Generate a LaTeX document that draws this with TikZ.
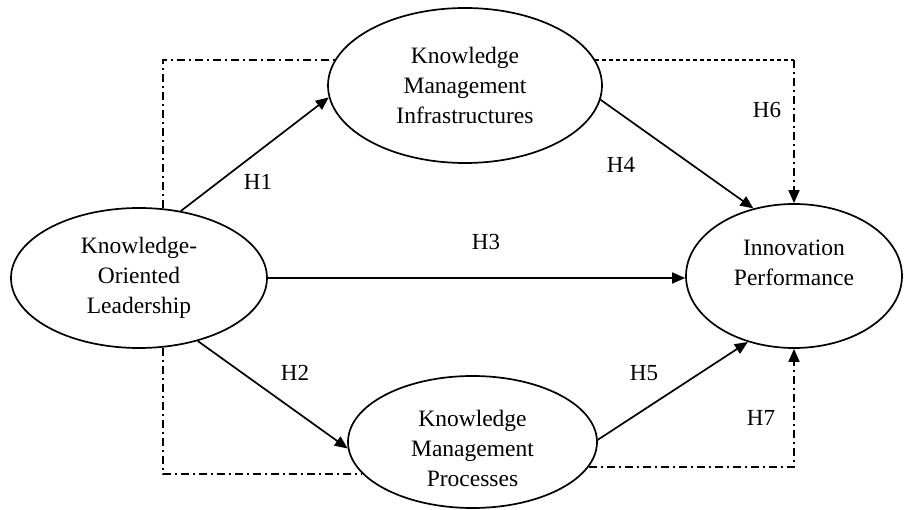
\documentclass[tikz,border=0pt]{standalone}
\usepackage{fontspec}
\setmainfont{Liberation Serif}
\usetikzlibrary{shapes.geometric,arrows.meta}
\begin{document}
\begin{tikzpicture}[x=1pt,y=-1pt,
  construct/.style={draw, ellipse, line width=1.7pt, inner sep=0pt, align=center,
    font=\fontsize{23.5}{30}\selectfont},
  inlabel/.style={align=center, inner sep=0pt, font=\fontsize{23.5}{30}\selectfont},
  hyp/.style={inner sep=0pt, font=\fontsize{23}{27}\selectfont},
  tip/.style={-{Triangle[length=13pt,width=11pt]}},
  link/.style={line width=1.7pt, tip},
  dashdot/.style={line width=1.7pt, dash pattern=on 8pt off 4pt on 2pt off 4pt},
  finedash/.style={line width=1.3pt, dash pattern=on 4pt off 3pt}]
\useasboundingbox (0,0) rectangle (908,510);

% constructs
\node[construct, minimum width=256pt, minimum height=140pt] (kol) at (139,278)
  {Knowledge-\\Oriented\\Leadership};
\node[construct, minimum width=274pt, minimum height=155pt] (kmi) at (465,85.5)
  {Knowledge\\Management\\Infrastructures};
\node[construct, minimum width=249pt, minimum height=132pt,
  label={[inlabel, name=kmptext, yshift=-6pt]center:{Knowledge\\Management\\Processes}}] (kmp) at (472.5,442) {};
\node[construct, minimum width=216pt, minimum height=144pt,
  label={[inlabel, name=iptext, yshift=13pt]center:{Innovation\\Performance}}] (ip) at (794,276) {};

% direct paths
\draw[link] (kol.58) -- (kmi.185.4);
\draw[link] (kol.-47) -- (kmp.183.7);
\draw[link] (kol.east) -- (kol.east -| ip.west);
\draw[link] (kmi.-6.2) -- (ip.121);
\draw[link] (kmp.1) -- (ip.235);

% mediation paths
\draw[dashdot] (kol.71) |- (kmi.169);
\draw[dashdot] (kol.-71) |- (kmp.196);
\coordinate (c6) at (kmi.11 -| ip.north);
\draw[finedash] (kmi.11) -- (c6);
\draw[dashdot, tip] (c6) -- (ip.north);
\draw[dashdot, tip] (kmp.-12) -| (ip.south);

% hypothesis labels
\node[hyp] (h1) at (258,182) {H1};
\node[hyp] (h2) at (295,373) {H2};
\node[hyp] (h3) at (486,242) {H3};
\node[hyp] (h4) at (621,165) {H4};
\node[hyp] (h5) at (644,373) {H5};
\node[hyp] (h6) at (767,110) {H6};
\node[hyp] (h7) at (761,418) {H7};
\end{tikzpicture}
\end{document}
